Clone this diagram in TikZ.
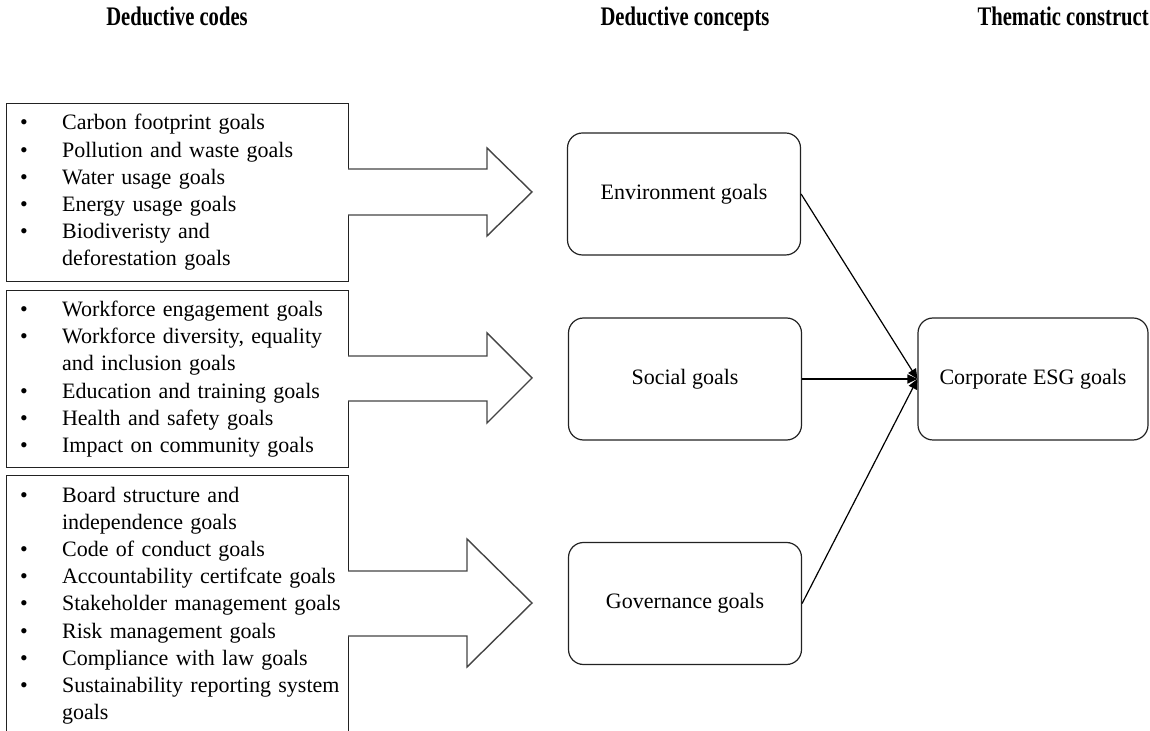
\documentclass[tikz,border=0pt]{standalone}
\usepackage{fontspec}
\usepackage{graphicx}
\setmainfont{Liberation Serif}
\usetikzlibrary{arrows.meta}
\definecolor{EsgLine}{HTML}{222222}
\definecolor{EsgArrow}{HTML}{444444}
\tikzset{
  heading/.style={font=\bfseries\fontsize{10.3}{12}\selectfont,anchor=base,inner sep=0pt},
  codebox/.style={draw=EsgLine,line width=0.6pt,anchor=north west,align=left,
    text width=157.5pt,inner xsep=6.75pt,inner ysep=0pt,minimum width=171pt,
    font=\fontsize{11}{13.6}\selectfont},
  concept/.style={draw=EsgLine,line width=0.6pt,rounded corners=7.5pt,
    minimum width=116.5pt,minimum height=61pt,font=\fontsize{11}{13.6}\selectfont},
  link/.style={draw=black,line width=0.6pt,-{Triangle[length=5pt,width=4.5pt]}},
  blockarrow/.style={draw=EsgArrow,line width=0.7pt,fill=white,line join=miter}
}
\hbadness=10000 \hfuzz=40pt
\newcommand{\goalitem}[1]{\mbox{\makebox[21pt][l]{\textbullet}#1}}
\newcommand{\goalwrap}[1]{\mbox{\hspace*{21pt}#1}}

\begin{document}
\begin{tikzpicture}[x=0.5pt,y=-0.5pt]
        \useasboundingbox (0,0) rectangle (1150,731);
        \fill[white] (0,0) rectangle (1150,731);
        \clip (0,0) rectangle (1150,731);

        % column headings
        \node[heading] (codeshead) at (177,26) {\scalebox{1}[1.3]{Deductive codes}};
        \node[heading] (concepthead) at (685,26) {\scalebox{1}[1.3]{Deductive concepts}};
        \node[heading,anchor=base east] (constructhead) at (1149,26)
          {\scalebox{1}[1.3]{Thematic construct}};

        % deductive codes
        \node[codebox,minimum height=89pt] (envcodes) at (6,103) {%
          \goalitem{Carbon footprint goals}\\
          \goalitem{Pollution and waste goals}\\
          \goalitem{Water usage goals}\\
          \goalitem{Energy usage goals}\\
          \goalitem{Biodiveristy and}\\
          \goalwrap{deforestation goals}};
        \node[codebox,minimum height=88.5pt] (soccodes) at (6,290) {%
          \goalitem{Workforce engagement goals}\\
          \goalitem{Workforce diversity, equality}\\
          \goalwrap{and inclusion goals}\\
          \goalitem{Education and training goals}\\
          \goalitem{Health and safety goals}\\
          \goalitem{Impact on community goals}};
        \node[codebox,minimum height=130pt] (govcodes) at (6,475) {%
          \goalitem{Board structure and}\\
          \goalwrap{independence goals}\\
          \goalitem{Code of conduct goals}\\
          \goalitem{Accountability certifcate goals}\\
          \goalitem{Stakeholder management goals}\\
          \goalitem{Risk management goals}\\
          \goalitem{Compliance with law goals}\\
          \goalitem{Sustainability reporting system}\\
          \goalwrap{goals}};

        % block arrows
        \draw[blockarrow] (348,169) -- (487,169) -- (487,148) -- (532,192)
          -- (487,236) -- (487,215) -- (348,215);
        \draw[blockarrow] (348,356) -- (487,356) -- (487,333) -- (532,378)
          -- (487,423) -- (487,401) -- (348,401);
        \draw[blockarrow] (348,571) -- (467,571) -- (467,539) -- (532,603)
          -- (467,667) -- (467,636) -- (348,636);

        % deductive concepts
        \node[concept] (envgoal) at (684,194) {Environment goals};
        \node[concept] (socgoal) at (685,379) {Social goals};
        \node[concept] (govgoal) at (685,603.5) {Governance goals};

        % thematic construct
        \node[concept,minimum width=115pt] (corpgoal) at (1033,379) {Corporate ESG goals};

        \draw[link] (envgoal.east) -- (corpgoal.west);
        \draw[link] (socgoal.east) -- (corpgoal.west);
        \draw[link] (govgoal.east) -- (corpgoal.west);
      \end{tikzpicture}
\end{document}
